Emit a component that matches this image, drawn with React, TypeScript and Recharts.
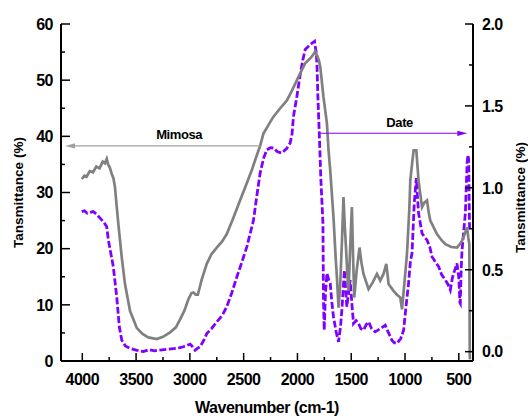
import React from 'react';
import { LineChart, Line, XAxis, YAxis, ReferenceLine } from 'recharts';

const FONT = '"Liberation Sans", Arial, Helvetica, sans-serif';
const GRAY = '#808080';
const PURPLE = '#8000FF';

// Axis ticks
const xTicks = [4000, 3750, 3500, 3250, 3000, 2750, 2500, 2250, 2000, 1750, 1500, 1250, 1000, 750, 500];
const leftTicks = [0, 5, 10, 15, 20, 25, 30, 35, 40, 45, 50, 55, 60];
const rightTicks = [0, 0.25, 0.5, 0.75, 1, 1.25, 1.5, 1.75, 2];

// Mimosa (left axis, %)
const mimosaWn = [4005, 3980, 3960, 3930, 3900, 3870, 3840, 3810, 3790, 3773, 3760, 3745, 3726, 3710, 3696, 3680, 3665, 3633, 3603, 3556, 3494, 3440, 3386, 3308, 3250, 3184, 3130, 3091, 3050, 3014, 2985, 2967, 2945, 2926, 2890, 2843, 2800, 2750, 2700, 2657, 2600, 2533, 2480, 2424, 2380, 2347, 2316, 2270, 2223, 2160, 2098, 2050, 2005, 1960, 1928, 1881, 1855, 1835, 1815, 1800, 1788, 1758, 1726, 1711, 1695, 1665, 1645, 1633, 1618, 1602, 1585, 1572, 1560, 1547, 1535, 1525, 1510, 1494, 1482, 1472, 1450, 1423, 1405, 1386, 1360, 1339, 1300, 1261, 1230, 1200, 1174, 1160, 1153, 1107, 1075, 1044, 1028, 1005, 982, 960, 951, 935, 920, 895, 874, 842, 820, 796, 780, 765, 703, 660, 625, 570, 517, 490, 470, 445, 423, 412, 402, 400, 398, 396];
const mimosaT = [32.4, 33.0, 32.8, 33.8, 33.6, 34.6, 34.3, 35.5, 35.2, 36.0, 35.0, 34.5, 33.3, 32.5, 30.9, 27.5, 24.4, 18.4, 13.7, 8.9, 5.9, 4.8, 4.2, 3.9, 4.3, 5.1, 6.0, 7.4, 9.0, 11.0, 12.1, 12.2, 11.8, 11.8, 14.5, 17.3, 19.0, 20.2, 21.3, 22.6, 25.3, 28.6, 31.2, 34.0, 36.5, 38.3, 40.5, 42.0, 43.5, 45.0, 46.4, 48.2, 50.0, 51.8, 53.0, 53.9, 54.5, 55.1, 54.3, 53.5, 52.4, 47.0, 42.3, 37.5, 33.9, 25.6, 18.5, 14.9, 9.5, 13.7, 22.0, 29.2, 24.0, 19.6, 15.0, 12.5, 20.0, 27.4, 18.0, 11.3, 16.0, 20.2, 17.5, 15.5, 14.0, 12.8, 14.0, 15.5, 14.3, 15.5, 17.3, 15.0, 13.7, 12.5, 11.8, 11.3, 9.2, 14.0, 19.0, 27.0, 32.1, 35.0, 37.5, 37.5, 32.1, 27.4, 28.2, 28.6, 26.5, 25.0, 22.6, 21.5, 20.8, 20.3, 20.2, 20.8, 21.4, 22.6, 23.8, 22.0, 20.8, 10.0, 1.0, 0.3];

// Date (right axis)
const dateWn = [4005, 3980, 3955, 3930, 3898, 3870, 3835, 3800, 3773, 3758, 3735, 3712, 3680, 3656, 3633, 3600, 3556, 3500, 3432, 3380, 3330, 3277, 3200, 3122, 3060, 2998, 2975, 2951, 2930, 2905, 2870, 2843, 2800, 2750, 2700, 2657, 2610, 2563, 2515, 2470, 2440, 2409, 2380, 2347, 2315, 2285, 2250, 2223, 2185, 2146, 2100, 2068, 2050, 2037, 2005, 1977, 1950, 1928, 1881, 1841, 1825, 1819, 1810, 1795, 1782, 1763, 1758, 1751, 1740, 1726, 1710, 1695, 1680, 1665, 1640, 1618, 1600, 1587, 1563, 1541, 1510, 1495, 1479, 1455, 1432, 1410, 1386, 1360, 1339, 1310, 1277, 1230, 1184, 1150, 1122, 1100, 1075, 1040, 1013, 990, 967, 950, 935, 914, 895, 885, 874, 842, 820, 796, 770, 749, 720, 687, 660, 625, 600, 579, 560, 548, 530, 517, 500, 490, 486, 478, 470, 455, 439, 423, 415, 408, 403, 400];
const dateT = [0.855, 0.86, 0.845, 0.85, 0.855, 0.84, 0.815, 0.79, 0.763, 0.682, 0.6, 0.519, 0.335, 0.152, 0.07, 0.035, 0.02, 0.01, 0.0, 0.012, 0.005, 0.01, 0.015, 0.02, 0.03, 0.046, 0.03, 0.009, 0.02, 0.03, 0.07, 0.11, 0.14, 0.182, 0.22, 0.274, 0.36, 0.457, 0.55, 0.641, 0.72, 0.8, 0.94, 1.09, 1.18, 1.232, 1.245, 1.243, 1.22, 1.212, 1.24, 1.273, 1.33, 1.436, 1.558, 1.681, 1.78, 1.844, 1.875, 1.895, 1.82, 1.763, 1.558, 1.294, 1.049, 0.784, 0.315, 0.131, 0.35, 0.478, 0.44, 0.417, 0.3, 0.213, 0.12, 0.06, 0.15, 0.254, 0.498, 0.274, 0.437, 0.3, 0.172, 0.19, 0.172, 0.14, 0.131, 0.165, 0.182, 0.14, 0.121, 0.14, 0.162, 0.11, 0.07, 0.055, 0.05, 0.08, 0.131, 0.28, 0.417, 0.55, 0.6, 0.906, 1.06, 0.95, 0.845, 0.723, 0.7, 0.682, 0.64, 0.58, 0.55, 0.519, 0.47, 0.437, 0.41, 0.376, 0.45, 0.478, 0.51, 0.539, 0.45, 0.3, 0.295, 0.5, 0.62, 0.73, 0.845, 1.15, 1.2, 1.17, 0.9, 0.75];

// Annotation arrows (data coordinates)
const mimosaArrow = { from: { x: 2347, y: 38.3 }, to: { x: 4161, y: 38.3 } };
const dateArrow = { from: { x: 1789, y: 1.333 }, to: { x: 421, y: 1.333 } };

const mimosaData = mimosaWn.map((wn, i) => ({ wn, t: mimosaT[i] }));
const dateData = dateWn.map((wn, i) => ({ wn, t: dateT[i] }));

const tickText = { fontFamily: FONT, fontWeight: 'bold' as const, fontSize: 16, letterSpacing: -0.5, fill: '#000' };

const BottomTick = (props: any) => {
  const { x, y, payload } = props;
  const v = payload.value;
  const major = v % 500 === 0;
  return (
    <g>
      <line x1={x} x2={x} y1={y} y2={y - (major ? 8 : 4)} stroke="#000" strokeWidth={1.5} />
      {major && (
        <text x={x} y={y + 24} textAnchor="middle" {...tickText}>{v}</text>
      )}
    </g>
  );
};

const TopTick = (props: any) => {
  const { x, y } = props;
  return <line x1={x} x2={x} y1={y} y2={y + 3} stroke="#000" strokeWidth={1.5} />;
};

const LeftTick = (props: any) => {
  const { x, y, payload } = props;
  const v = payload.value;
  const major = v % 10 === 0;
  return (
    <g>
      <line x1={x} x2={x + (major ? 9 : 4)} y1={y} y2={y} stroke="#000" strokeWidth={1.5} />
      {major && (
        <text x={x - 8} y={y} dy="0.36em" textAnchor="end" {...tickText}>{v}</text>
      )}
    </g>
  );
};

const RightTick = (props: any) => {
  const { x, y, payload } = props;
  const v = payload.value;
  const major = Math.abs(v * 2 - Math.round(v * 2)) < 1e-6;
  return (
    <g>
      <line x1={x} x2={x - (major ? 8 : 4)} y1={y} y2={y} stroke="#000" strokeWidth={1.5} />
      {major && (
        <text x={x + 9} y={y} dy="0.36em" textAnchor="start" {...tickText}>{v.toFixed(1)}</text>
      )}
    </g>
  );
};

const makeArrow = (color: string, width: number, label: string, frac: number, textDy: number) => (p: any) => {
  const { x1, y1, x2, y2 } = p;
  const ang = Math.atan2(y2 - y1, x2 - x1);
  const L = 10;
  const W = 2.6;
  const bx = x2 - L * Math.cos(ang);
  const by = y2 - L * Math.sin(ang);
  const px = -Math.sin(ang) * W;
  const py = Math.cos(ang) * W;
  return (
    <g>
      <line x1={x1} y1={y1} x2={bx} y2={by} stroke={color} strokeWidth={width} />
      <polygon points={`${x2},${y2} ${bx + px},${by + py} ${bx - px},${by - py}`} fill={color} />
      <text
        x={x1 + frac * (x2 - x1)}
        y={y1 + textDy}
        textAnchor="middle"
        fontFamily={FONT}
        fontWeight="bold"
        fontSize={13}
        letterSpacing={-0.4}
        fill="#000"
      >
        {label}
      </text>
    </g>
  );
};

const RightTitle = (props: any) => {
  const vb = props.viewBox || {};
  const cx = vb.x + vb.width - 3;
  const cy = vb.y + vb.height / 2 + 5;
  return (
    <text
      x={cx}
      y={cy}
      dy="0.36em"
      transform={`rotate(-90, ${cx}, ${cy})`}
      textAnchor="middle"
      fontFamily={FONT}
      fontWeight="bold"
      fontSize={13.5}
      fill="#000"
    >
      Tansmittance (%)
    </text>
  );
};

const titleStyle = { fontFamily: FONT, fontWeight: 'bold', fontSize: 13.5, fill: '#000', textAnchor: 'middle' } as any;

export default function App() {
  return (
    <div style={{ width: 528, height: 416, overflow: 'hidden' }}>
      <style>{'html, body { margin: 0; padding: 0; overflow: hidden; }'}</style>
      <LineChart width={528} height={416} margin={{ top: 24, right: 5, bottom: 2, left: 0 }}>
        <XAxis
          xAxisId="bottom"
          dataKey="wn"
          type="number"
          domain={[368, 4198]}
          reversed
          allowDataOverflow
          ticks={xTicks}
          interval={0}
          tickSize={0}
          tickMargin={0}
          tickLine={false}
          tick={<BottomTick />}
          axisLine={{ stroke: '#000', strokeWidth: 2 }}
          height={53}
          label={{
            value: 'Wavenumber (cm-1)',
            position: 'insideBottom',
            offset: 1,
            style: { fontFamily: FONT, fontWeight: 'bold', fontSize: 16, letterSpacing: -0.5, fill: '#000' },
          }}
        />
        <XAxis
          xAxisId="top"
          orientation="top"
          dataKey="wn"
          type="number"
          domain={[368, 4198]}
          reversed
          allowDataOverflow
          ticks={xTicks}
          interval={0}
          tickSize={0}
          tickMargin={0}
          tickLine={false}
          tick={<TopTick />}
          axisLine={{ stroke: '#000', strokeWidth: 2 }}
          height={0}
        />
        <YAxis
          yAxisId="left"
          type="number"
          domain={[0, 60]}
          allowDataOverflow
          ticks={leftTicks}
          interval={0}
          tickSize={0}
          tickMargin={0}
          tickLine={false}
          tick={<LeftTick />}
          axisLine={{ stroke: '#000', strokeWidth: 2 }}
          width={61}
          label={{ value: 'Tansmittance (%)', angle: -90, position: 'insideLeft', offset: 18, style: titleStyle }}
        />
        <YAxis
          yAxisId="right"
          orientation="right"
          type="number"
          domain={[-0.057, 2]}
          allowDataOverflow
          ticks={rightTicks}
          interval={0}
          tickSize={0}
          tickMargin={0}
          tickLine={false}
          tick={<RightTick />}
          axisLine={{ stroke: '#000', strokeWidth: 2 }}
          width={50}
          label={<RightTitle />}
        />
        <Line
          xAxisId="bottom"
          yAxisId="right"
          data={dateData}
          dataKey="t"
          type="linear"
          stroke={PURPLE}
          strokeWidth={2.8}
          strokeDasharray="7 2.5"
          dot={false}
          activeDot={false}
          isAnimationActive={false}
        />
        <Line
          xAxisId="bottom"
          yAxisId="left"
          data={mimosaData}
          dataKey="t"
          type="linear"
          stroke={GRAY}
          strokeWidth={2.7}
          dot={false}
          activeDot={false}
          isAnimationActive={false}
        />
        <ReferenceLine
          xAxisId="bottom"
          yAxisId="left"
          segment={[mimosaArrow.from, mimosaArrow.to]}
          ifOverflow="visible"
          shape={makeArrow('#A0A0A0', 1.4, 'Mimosa', 0.415, -7)}
        />
        <ReferenceLine
          xAxisId="bottom"
          yAxisId="right"
          segment={[dateArrow.from, dateArrow.to]}
          ifOverflow="visible"
          shape={makeArrow(PURPLE, 1.1, 'Date', 0.54, -6)}
        />
      </LineChart>
    </div>
  );
}
